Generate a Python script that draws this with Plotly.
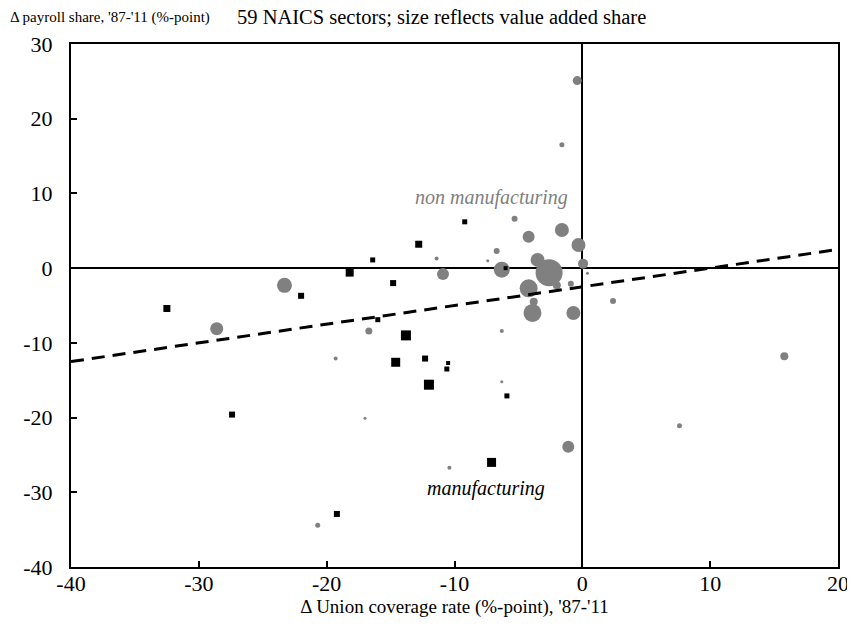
import plotly.graph_objects as go

# Non-manufacturing sectors (gray circles)
nonman_x = [-0.4, -1.6, -5.3, -4.2, -1.6, -0.3, 0.06, 0.4, -6.7, -7.4, -6.3, -3.5, -2.6, -2.0, -0.9,
            -4.2, -3.8, -3.9, -0.7, -6.3, -10.9, -11.4, -23.3, -28.6, -16.7, -19.3, -17.0, -6.3,
            -1.1, -10.4, -20.7, 2.4, 15.8, 7.6]
nonman_y = [25.1, 16.5, 6.6, 4.2, 5.1, 3.1, 0.6, -0.7, 2.3, 1.0, -0.2, 1.1, -0.6, -2.3, -2.1,
            -2.7, -4.5, -6.0, -6.0, -8.4, -0.8, 1.3, -2.3, -8.1, -8.4, -12.1, -20.1, -15.2,
            -23.9, -26.7, -34.4, -4.4, -11.8, -21.1]
# value added share (marker scale)
nonman_va = [9, 5, 6, 12, 14, 14, 10, 3, 6, 3, 16, 14, 27, 8, 6,
             18, 8, 18, 14, 4, 12, 4, 15, 13, 7, 4, 3, 3,
             12, 4, 5, 6, 8, 5]

# Manufacturing sectors (black squares)
man_x = [-32.5, -27.4, -22.0, -18.2, -16.4, -14.8, -12.8, -16.0, -13.8, -14.6, -12.3, -12.0,
         -9.2, -6.0, -10.5, -10.6, -5.9, -7.1, -19.2]
man_y = [-5.4, -19.6, -3.7, -0.6, 1.1, -2.0, 3.2, -6.9, -9.0, -12.6, -12.1, -15.6,
         6.2, 0.0, -12.7, -13.5, -17.1, -26.0, -32.9]
man_va = [7, 6, 6, 8, 5, 6, 7, 5, 10, 9, 6, 10,
          5, 4, 4, 5, 5, 9, 6]

# Fitted trend line
trend_x = [-40, 20]
trend_y = [-12.5, 2.5]

x_ticks = [-40, -30, -20, -10, 0, 10, 20]
x_ticklabels = ["-40", "-30", "-20", "-10", "0", "10", "20"]
y_ticks = [-40, -30, -20, -10, 0, 10, 20, 30]
y_ticklabels = ["-40", "-30", "-20", "-10", "0", "10", "20", "30"]

SERIF = "Liberation Serif"

fig = go.Figure()
fig.add_trace(go.Scatter(
    x=nonman_x, y=nonman_y, mode="markers",
    marker=dict(symbol="circle", size=nonman_va, color="#808080", opacity=1, line=dict(width=0)),
    hoverinfo="skip", showlegend=False))
fig.add_trace(go.Scatter(
    x=man_x, y=man_y, mode="markers",
    marker=dict(symbol="square", size=man_va, color="#000000", opacity=1, line=dict(width=0)),
    hoverinfo="skip", showlegend=False))
fig.add_trace(go.Scatter(
    x=trend_x, y=trend_y, mode="lines",
    line=dict(color="black", width=3, dash="13px,8px"),
    hoverinfo="skip", showlegend=False))

fig.update_layout(
    width=847, height=610,
    margin=dict(l=63, r=17, t=36, b=51),
    paper_bgcolor="white", plot_bgcolor="white",
    font=dict(family=SERIF, color="black"),
    xaxis=dict(range=[-40, 20], tickvals=x_ticks, ticktext=x_ticklabels, ticks="inside",
               ticklen=6, tickwidth=1.5, automargin=False, ticklabeloverflow="allow",
               tickcolor="black", showgrid=False, zeroline=True, zerolinecolor="black",
               zerolinewidth=2, showline=True, linecolor="black", linewidth=2, mirror=True,
               tickfont=dict(size=22, family=SERIF), ticklabelstandoff=-4,
               title=dict(text="Δ Union coverage rate (%-point), '87-'11",
                          font=dict(size=19, family=SERIF), standoff=0)),
    yaxis=dict(range=[-40, 30], tickvals=y_ticks, ticktext=y_ticklabels, ticks="inside",
               ticklen=6, tickwidth=1.5, automargin=False, ticklabeloverflow="allow",
               tickcolor="black", showgrid=False, zeroline=True, zerolinecolor="black",
               zerolinewidth=2, showline=True, linecolor="black", linewidth=2, mirror=True,
               tickfont=dict(size=22, family=SERIF), ticklabelstandoff=12),
    annotations=[
        dict(text="Δ payroll share, '87-'11 (%-point)", xref="paper", yref="paper",
             x=-0.0821, y=1.0, xanchor="left", yanchor="middle", yshift=27, showarrow=False,
             font=dict(size=15, family=SERIF, color="black")),
        dict(text="59 NAICS sectors; size reflects value added share", xref="paper", yref="paper",
             x=0.2138, y=1.0, xanchor="left", yanchor="middle", yshift=27, showarrow=False,
             font=dict(size=20.5, family=SERIF, color="black")),
        dict(text="<i>non manufacturing</i>", x=-7.1, y=9.4, xref="x", yref="y", showarrow=False,
             font=dict(size=20, family=SERIF, color="#808080")),
        dict(text="<i>manufacturing</i>", x=-7.5, y=-29.5, xref="x", yref="y", showarrow=False,
             font=dict(size=20, family=SERIF, color="black")),
    ],
)

fig.write_html("out.html")
